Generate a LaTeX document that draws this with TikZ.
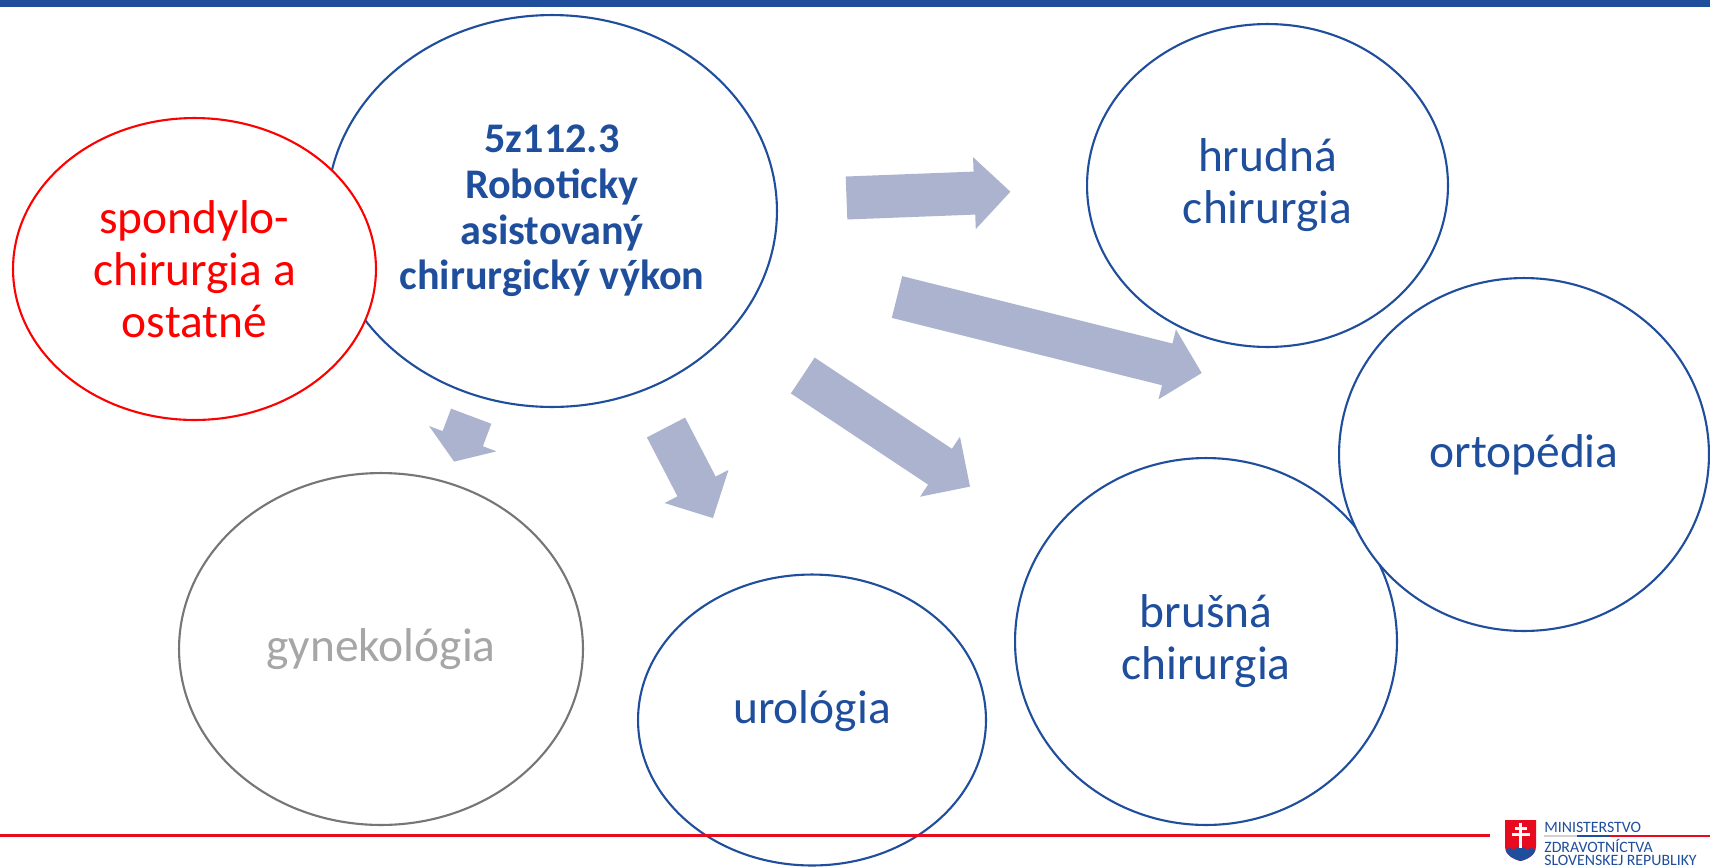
\documentclass[tikz,border=0pt]{standalone}
\usepackage{fontspec}
\setmainfont{Carlito}
\usetikzlibrary{shapes.geometric}
\definecolor{mzblue}{RGB}{31,78,157}
\definecolor{mzred}{RGB}{255,0,0}
\definecolor{lineRed}{RGB}{232,10,30}
\definecolor{gynline}{RGB}{118,118,118}
\definecolor{gyntext}{RGB}{166,166,166}
\definecolor{arrowcol}{RGB}{171,179,207}
\def\blockarrow[#1](#2)(#3:#4:#5){\fill[#1, shift={(#2)}, rotate=#3] (0,-21.5) -- ({#4-#5},-21.5) -- ({#4-#5},-36) -- (#4,0) -- ({#4-#5},36) -- ({#4-#5},21.5) -- (0,21.5) -- cycle;}

\begin{document}
\begin{tikzpicture}[x=0.02cm, y=-0.02cm,
		bubble/.style={ellipse, line width=1.2pt, fill=white, inner sep=0pt, align=center},
		bigfont/.style={font=\fontsize{27}{29.6}\selectfont},
		boldfont/.style={font=\fontsize{24}{26}\selectfont\bfseries},
		arrowfill/.style={fill=arrowcol},
		logotext/.style={text=mzblue, inner sep=0pt, font=\fontsize{9}{10}\selectfont}]
		%%%%% START %%%%%
		
		\useasboundingbox (0,0) rectangle (1710,866);
		\fill[white] (0,0) rectangle (1710,866);
		\fill[mzblue] (0,0) rectangle (1710,7);
		
		\node[bubble, draw=mzblue, text=mzblue, boldfont, minimum width=9cm, minimum height=7.84cm] (robot) at (552,211) {5z112.3\\Roboticky\\asistovaný\\chirurgický výkon};
		\node[bubble, draw=mzred, text=mzred, bigfont, minimum width=7.26cm, minimum height=6.04cm] (spondylo) at (194.5,269) {spondylo-\\chirurgia a\\ostatné};
		
		\node[bubble, draw=mzblue, text=mzblue, bigfont, minimum width=7.22cm, minimum height=6.46cm] (hrudna) at (1267.5,185.5) {hrudná\\chirurgia};
		\node[bubble, draw=mzblue, text=mzblue, bigfont, minimum width=7.64cm, minimum height=7.34cm] (brusna) at (1206,641.5) {brušná\\chirurgia};
		\node[bubble, draw=mzblue, text=mzblue, bigfont, minimum width=7.4cm, minimum height=7.06cm] (orto) at (1524,454.5) {ortopédia};
		
		\node[bubble, draw=gynline, text=gyntext, bigfont, minimum width=8.08cm, minimum height=7.04cm] (gyn) at (381,649) {gynekológia};
		\node[bubble, draw=mzblue, minimum width=6.96cm, minimum height=5.82cm] (uro) at (812,720) {};
		\node[text=mzblue, bigfont, inner sep=0pt] (urotext) at (812,711) {urológia};
		
		\blockarrow[arrowfill](846.5,198)(2.2:164:36);
		\blockarrow[arrowfill](897,297)(-14:314:35.5);
		\blockarrow[arrowfill](802.75,375.5)(-33.6:200.8:36);
		\blockarrow[arrowfill](666,427.5)(-62.6:102:35.6);
		\blockarrow[arrowfill](471.2,416.2)(-110.6:48.5:24.5);
		
		\draw[lineRed, line width=0.06cm] (0,835.5) -- (1490,835.5);
		
		% logo
		\fill[lineRed] (1505,820) -- (1536,820) -- (1536,846) .. controls (1536,855) and (1528,859) .. (1520.5,861) .. controls (1513,859) and (1505,855) .. (1505,846) -- cycle;
		\begin{scope}
			\clip (1505,820) -- (1536,820) -- (1536,846) .. controls (1536,855) and (1528,859) .. (1520.5,861) .. controls (1513,859) and (1505,855) .. (1505,846) -- cycle;
			\fill[mzblue] (1503,853) .. controls (1507,847) and (1511,847) .. (1514,850) .. controls (1516,845) and (1525,845) .. (1527,850) .. controls (1530,847) and (1534,847) .. (1538,853) -- (1538,866) -- (1503,866) -- cycle;
		\end{scope}
		\fill[white] (1519,823) rectangle (1522,848);
		\fill[white] (1514.5,827) rectangle (1526.5,829.5);
		\fill[white] (1511.5,833) rectangle (1529.5,835.5);
		
		\node[logotext, anchor=base west] (ministerstvo) at (1544,832) {MINISTERSTVO};
		\draw[black!18, line width=0.04cm] (1544,835.5) -- (1577,835.5);
		\draw[mzblue, line width=0.04cm] (1577,835.5) -- (1610,835.5);
		\draw[lineRed, line width=0.04cm] (1610,835.5) -- (1710,835.5);
		\node[logotext, anchor=base west] (zdravotnictva) at (1544,852) {ZDRAVOTNÍCTVA};
		\node[logotext, anchor=base west] (republiky) at (1544,865) {SLOVENSKEJ REPUBLIKY};
		
		%%%%% END %%%%%
\end{tikzpicture}
\end{document}
